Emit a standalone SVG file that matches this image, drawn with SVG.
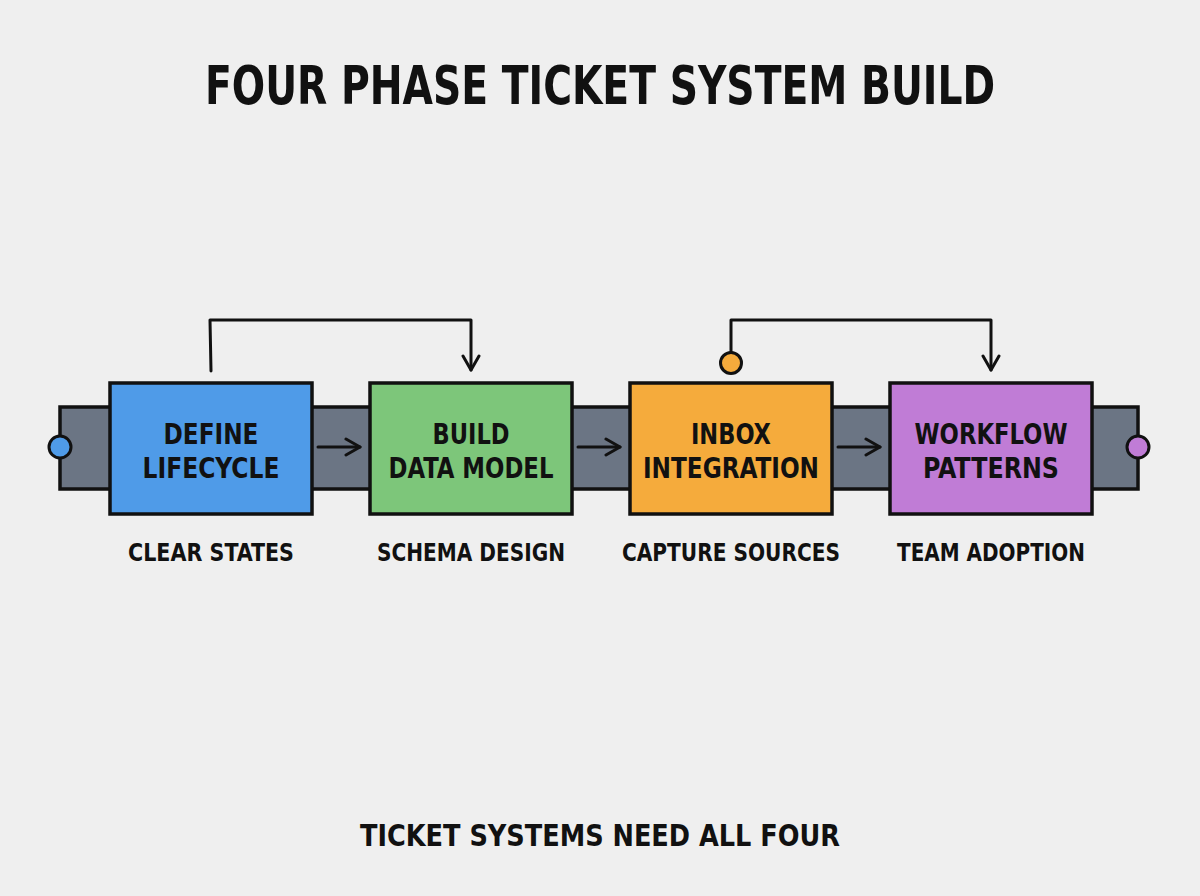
<svg xmlns="http://www.w3.org/2000/svg" width="1200" height="896" viewBox="0 0 1200 896">
<defs>
<style>
.t{font-family:"DejaVu Sans Condensed","DejaVu Sans","Liberation Sans",sans-serif;font-weight:bold;fill:#111;text-anchor:middle}
.b{font-size:29px}
.box{stroke:#111;stroke-width:3.5}
.ln{fill:none;stroke:#111;stroke-width:3;stroke-linecap:round;stroke-linejoin:round}
</style>
<marker id="ah" viewBox="0 0 20 20" refX="18" refY="10" markerWidth="20" markerHeight="20" markerUnits="userSpaceOnUse" orient="auto">
<path d="M4,2 L18,10 L4,18" fill="none" stroke="#111" stroke-width="3" stroke-linecap="round" stroke-linejoin="round"/>
</marker>
</defs>
<rect width="1200" height="896" fill="#efefef"/>
<text class="t" x="600" y="104" font-size="54" textLength="790" lengthAdjust="spacingAndGlyphs">FOUR PHASE TICKET SYSTEM BUILD</text>
<g id="band">
<rect x="60" y="407" width="1078" height="82" fill="#6b7584" stroke="#111" stroke-width="3.5"/>
</g>
<g id="connectors">
<circle cx="60" cy="447" r="11" fill="#4f9be8" stroke="#111" stroke-width="3"/>
<circle cx="1138" cy="447" r="11" fill="#c07cd6" stroke="#111" stroke-width="3"/>
<line class="ln" x1="318" y1="447" x2="360" y2="447" marker-end="url(#ah)"/>
<line class="ln" x1="578" y1="447" x2="620" y2="447" marker-end="url(#ah)"/>
<line class="ln" x1="838" y1="447" x2="880" y2="447" marker-end="url(#ah)"/>
<path class="ln" d="M211,371 L210,320 L471,320 L471,370" marker-end="url(#ah)"/>
<path class="ln" d="M731,352 L731,320 L991,320 L991,370" marker-end="url(#ah)"/>
<circle cx="731" cy="363" r="10.5" fill="#f5ab3c" stroke="#111" stroke-width="3"/>
</g>
<g id="n1">
<rect class="box" x="110" y="383" width="202" height="131" fill="#4f9be8"/>
<text class="t b" x="211" y="444" textLength="95" lengthAdjust="spacingAndGlyphs">DEFINE</text>
<text class="t b" x="211" y="478" textLength="137" lengthAdjust="spacingAndGlyphs">LIFECYCLE</text>
<text class="t" x="211" y="561" font-size="25" textLength="166" lengthAdjust="spacingAndGlyphs">CLEAR STATES</text>
</g>
<g id="n2">
<rect class="box" x="370" y="383" width="202" height="131" fill="#7dc67a"/>
<text class="t b" x="471" y="444" textLength="77" lengthAdjust="spacingAndGlyphs">BUILD</text>
<text class="t b" x="471" y="478" textLength="165" lengthAdjust="spacingAndGlyphs">DATA MODEL</text>
<text class="t" x="471" y="561" font-size="25" textLength="188" lengthAdjust="spacingAndGlyphs">SCHEMA DESIGN</text>
</g>
<g id="n3">
<rect class="box" x="630" y="383" width="202" height="131" fill="#f5ab3c"/>
<text class="t b" x="731" y="444" textLength="80" lengthAdjust="spacingAndGlyphs">INBOX</text>
<text class="t b" x="731" y="478" textLength="176" lengthAdjust="spacingAndGlyphs">INTEGRATION</text>
<text class="t" x="731" y="561" font-size="25" textLength="218" lengthAdjust="spacingAndGlyphs">CAPTURE SOURCES</text>
</g>
<g id="n4">
<rect class="box" x="890" y="383" width="202" height="131" fill="#c07cd6"/>
<text class="t b" x="991" y="444" textLength="153" lengthAdjust="spacingAndGlyphs">WORKFLOW</text>
<text class="t b" x="991" y="478" textLength="136" lengthAdjust="spacingAndGlyphs">PATTERNS</text>
<text class="t" x="991" y="561" font-size="25" textLength="188" lengthAdjust="spacingAndGlyphs">TEAM ADOPTION</text>
</g>
<text class="t" x="600" y="846" font-size="30" textLength="480" lengthAdjust="spacingAndGlyphs">TICKET SYSTEMS NEED ALL FOUR</text>
</svg>
